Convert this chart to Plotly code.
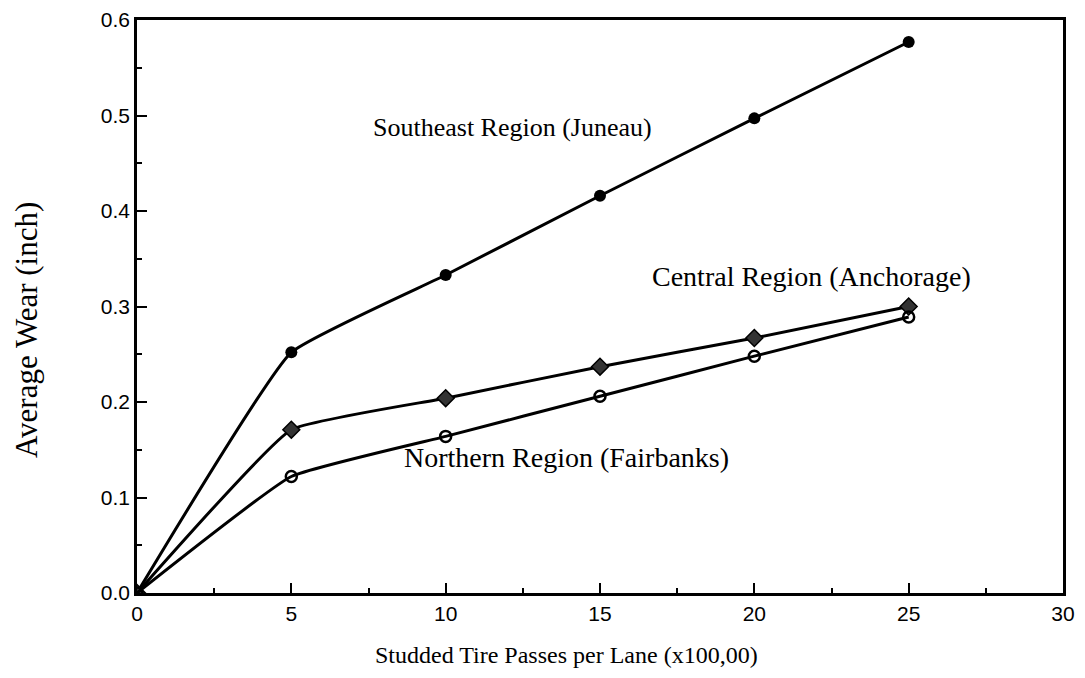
import plotly.graph_objects as go

passes = [0, 5, 10, 15, 20, 25]
southeast = [0.0, 0.252, 0.333, 0.416, 0.497, 0.577]
central = [0.0, 0.171, 0.204, 0.237, 0.267, 0.300]
northern = [0.0, 0.122, 0.164, 0.206, 0.248, 0.289]

x_ticks = [0, 5, 10, 15, 20, 25, 30]
y_ticks = [0.0, 0.1, 0.2, 0.3, 0.4, 0.5, 0.6]
y_tick_text = ["0.0", "0.1", "0.2", "0.3", "0.4", "0.5", "0.6"]

serif = "Liberation Serif, Times New Roman, serif"
sans = "Liberation Sans, Arial, sans-serif"

fig = go.Figure()
fig.add_trace(go.Scatter(x=passes, y=southeast, mode="lines+markers", name="Southeast Region (Juneau)",
                         line=dict(color="black", width=3, shape="spline", smoothing=0.35),
                         marker=dict(symbol="circle", size=12, color="black")))
fig.add_trace(go.Scatter(x=passes, y=central, mode="lines+markers", name="Central Region (Anchorage)",
                         line=dict(color="black", width=3, shape="spline", smoothing=0.35),
                         marker=dict(symbol="diamond", size=13, color="#333333",
                                     line=dict(color="black", width=1.5))))
fig.add_trace(go.Scatter(x=passes, y=northern, mode="lines+markers", name="Northern Region (Fairbanks)",
                         line=dict(color="black", width=3, shape="spline", smoothing=0.35),
                         marker=dict(symbol="circle-open", size=11, color="black",
                                     line=dict(color="black", width=2.5))))

fig.add_annotation(x=12.15, y=0.487, text="Southeast Region (Juneau)", showarrow=False,
                   font=dict(family=serif, size=26, color="black"))
fig.add_annotation(x=21.85, y=0.331, text="Central Region (Anchorage)", showarrow=False,
                   font=dict(family=serif, size=28, color="black"))
fig.add_annotation(x=13.9, y=0.142, text="Northern Region (Fairbanks)", showarrow=False,
                   font=dict(family=serif, size=28, color="black"))

# plot area in page pixels (page has an 8px body margin)
L, R, T, B = 129, 30, 12, 93
PW, PH = 1085 - L - R, 678 - T - B

# axis titles
fig.add_annotation(xref="paper", yref="paper", x=(566 - 137) / PW, y=-(655 - 593) / PH,
                   text="Studded Tire Passes per Lane (x100,00)", showarrow=False,
                   xanchor="center", yanchor="middle",
                   font=dict(family=serif, size=24, color="black"))
fig.add_annotation(xref="paper", yref="paper", x=-(137 - 27) / PW, y=(593 - 330) / PH,
                   text="Average Wear (inch)", showarrow=False, textangle=-90,
                   xanchor="center", yanchor="middle",
                   font=dict(family=serif, size=31, color="black"))

fig.update_layout(
    width=1085, height=678,
    margin=dict(l=L, r=R, t=T, b=B, autoexpand=False),
    paper_bgcolor="white", plot_bgcolor="white",
    showlegend=False,
    xaxis=dict(range=[0, 30], tickvals=x_ticks, ticktext=[str(v) for v in x_ticks],
               ticks="inside", ticklen=10, tickwidth=2, tickcolor="black",
               minor=dict(dtick=2.5, ticks="inside", ticklen=5, tickwidth=2, tickcolor="black"),
               showline=True, linecolor="black", linewidth=2.5, mirror=True,
               showgrid=False, zeroline=False, automargin=False, ticklabeloverflow="allow",
               tickfont=dict(family=sans, size=21, color="black")),
    yaxis=dict(range=[0, 0.6], tickvals=y_ticks, ticktext=y_tick_text,
               ticks="inside", ticklen=10, tickwidth=2, tickcolor="black",
               minor=dict(dtick=0.05, ticks="inside", ticklen=5, tickwidth=2, tickcolor="black"),
               showline=True, linecolor="black", linewidth=2.5, mirror=True,
               showgrid=False, zeroline=False, automargin=False, ticklabeloverflow="allow",
               tickfont=dict(family=sans, size=21, color="black")),
)

fig.write_html("out.html")
